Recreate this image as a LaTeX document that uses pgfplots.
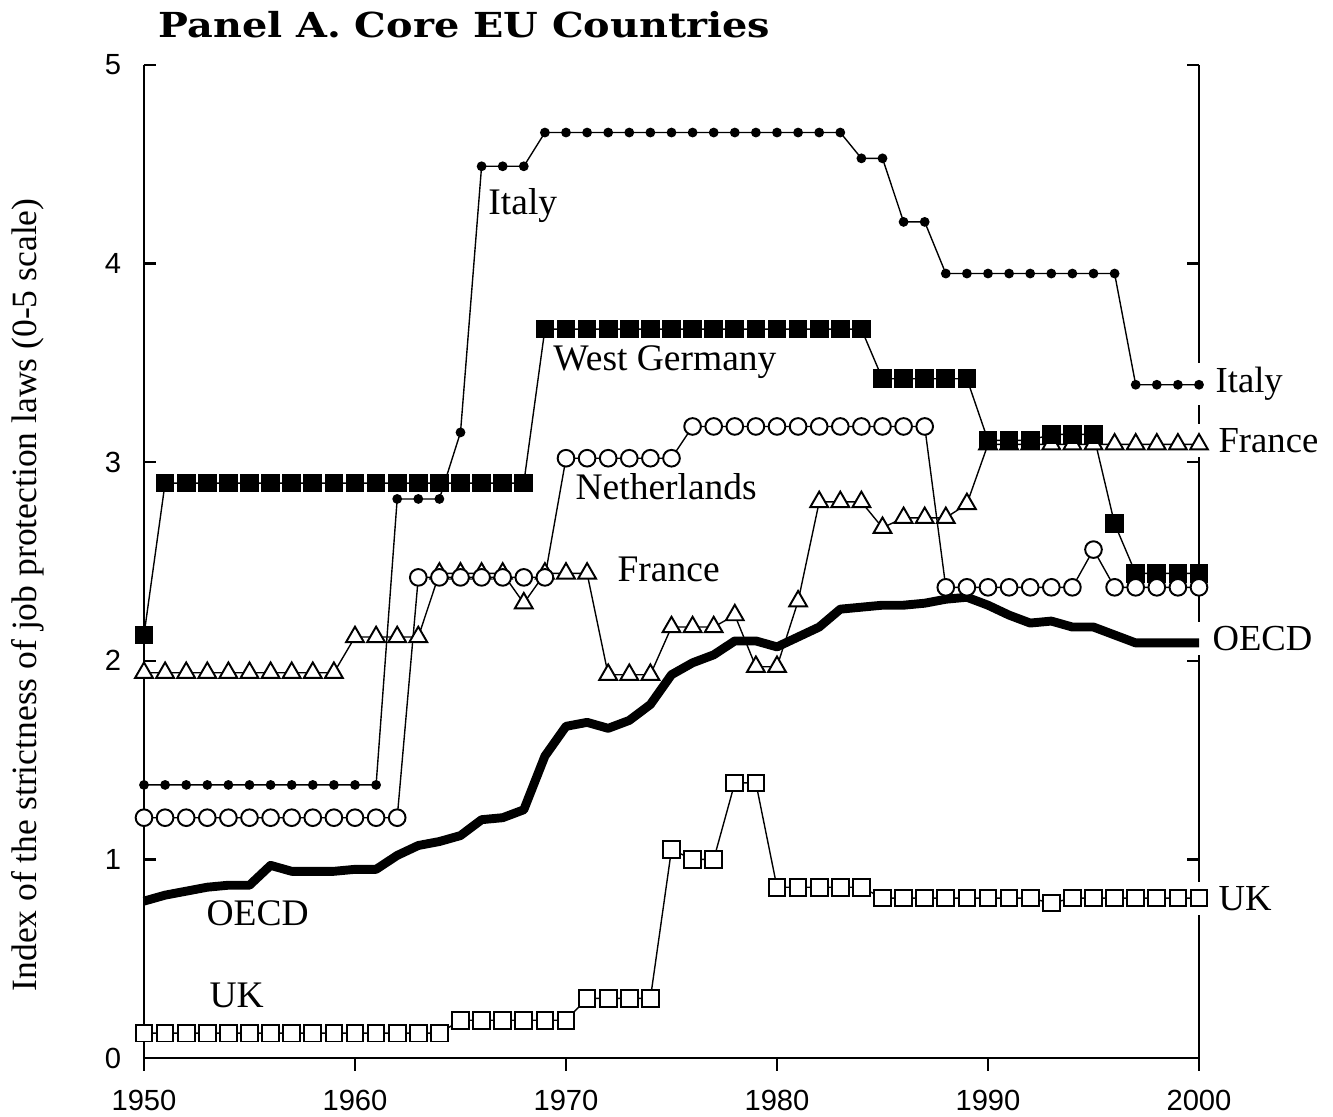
\documentclass[border=0pt]{standalone}
\usepackage{fontspec}
\setmainfont{Liberation Serif}
\newfontfamily\tickfont{Liberation Sans}
\newfontfamily\titlefont{DejaVu Serif}
\usepackage{pgfplots}
\pgfplotsset{compat=1.18}
\begin{document}
\begin{tikzpicture}
\useasboundingbox (-51.84pt,-21.24pt) rectangle (428.04pt,380.88pt);
\node[anchor=base west,inner sep=0pt,font=\titlefont\bfseries\fontsize{12.4}{14}\selectfont] at (5.04pt,367.2pt) {\scalebox{1.155}[1]{Panel A. Core EU Countries}};
\node[rotate=90,inner sep=0pt,font=\fontsize{12.8}{14}\selectfont] at (-41.76pt,166.7pt) {Index of the strictness of job protection laws (0-5 scale)};
\begin{axis}[
  at={(0pt,0pt)}, anchor=south west,
  scale only axis, width=379.8pt, height=357.48pt,
  xmin=1950, xmax=2000, ymin=0, ymax=5,
  clip=false,
  axis line style={draw=none},
  xtick={1950,1960,1970,1980,1990,2000},
  ytick={0,1,2,3,4,5},
  xtick pos=left, ytick pos=both,
  xtick align=outside, ytick align=inside,
  major tick length=4.5pt,
  tick style={line width=0.8pt,black},
  xticklabel style={font=\tickfont\fontsize{10.5}{12}\selectfont, yshift=-3.6pt},
  yticklabel style={font=\tickfont\fontsize{10.5}{12}\selectfont, xshift=-4.7pt},
  /pgf/number format/assume math mode=true,
  /pgf/number format/1000 sep={},
  every axis plot/.append style={line width=0.5pt, black},
]
\draw[line width=0.8pt] (axis cs:1950,5) -- (axis cs:1950,0) -- (axis cs:2000,0) -- (axis cs:2000,5);
% right labels with white backing
\begin{scope}[every node/.style={anchor=base west, fill=white, inner ysep=1.5pt, font=\fontsize{13.2}{15}\selectfont}]
\node[inner xsep=6.84pt] at (axis cs:1999.86,3.35) {Italy};
\node[inner xsep=7.9pt] at (axis cs:1999.86,3.05) {France};
\node[inner xsep=5.76pt] at (axis cs:1999.86,2.054) {OECD};
\node[inner xsep=7.9pt] at (axis cs:1999.86,0.745) {UK};
\end{scope}
\begin{scope}[every node/.style={anchor=base west, inner sep=0pt, font=\fontsize{13.5}{15}\selectfont}]
\node at (axis cs:1966.30,4.245) {Italy};
\node at (axis cs:1969.38,3.464) {West Germany};
\node at (axis cs:1970.43,2.81) {Netherlands};
\node at (axis cs:1972.42,2.397) {France};
\node at (axis cs:1952.94,0.665) {OECD};
\node at (axis cs:1953.08,0.252) {UK};
\end{scope}
% UK
\addplot[mark=square*, mark size=3.0pt, mark options={fill=white, line width=0.7pt}] coordinates {
(1950,0.125)(1951,0.125)(1952,0.125)(1953,0.125)(1954,0.125)(1955,0.125)(1956,0.125)(1957,0.125)
(1958,0.125)(1959,0.125)(1960,0.125)(1961,0.125)(1962,0.125)(1963,0.125)(1964,0.125)
(1965,0.19)(1966,0.19)(1967,0.19)(1968,0.19)(1969,0.19)(1970,0.19)
(1971,0.30)(1972,0.30)(1973,0.30)(1974,0.30)
(1975,1.05)(1976,1.00)(1977,1.00)(1978,1.385)(1979,1.385)
(1980,0.86)(1981,0.86)(1982,0.86)(1983,0.86)(1984,0.86)
(1985,0.805)(1986,0.805)(1987,0.805)(1988,0.805)(1989,0.805)(1990,0.805)(1991,0.805)(1992,0.805)
(1993,0.78)(1994,0.805)(1995,0.805)(1996,0.805)(1997,0.805)(1998,0.805)(1999,0.805)(2000,0.805)
};
% OECD
\addplot[line width=3.2pt, no markers, line join=round] coordinates {
(1950,0.79)(1951,0.82)(1952,0.84)(1953,0.86)(1954,0.87)(1955,0.87)(1956,0.97)(1957,0.94)
(1958,0.94)(1959,0.94)(1960,0.95)(1961,0.95)(1962,1.02)(1963,1.07)(1964,1.09)(1965,1.12)
(1966,1.20)(1967,1.21)(1968,1.25)(1969,1.52)(1970,1.67)(1971,1.69)(1972,1.66)(1973,1.70)
(1974,1.78)(1975,1.93)(1976,1.99)(1977,2.03)(1978,2.10)(1979,2.10)(1980,2.07)(1981,2.12)
(1982,2.17)(1983,2.26)(1984,2.27)(1985,2.28)(1986,2.28)(1987,2.29)(1988,2.31)(1989,2.32)
(1990,2.28)(1991,2.23)(1992,2.19)(1993,2.20)(1994,2.17)(1995,2.17)(1996,2.13)(1997,2.09)
(1998,2.09)(1999,2.09)(2000,2.09)
};
% France
\addplot[mark=triangle*, mark size=3.7pt, mark options={fill=white, line width=0.7pt}] coordinates {
(1950,1.94)(1951,1.94)(1952,1.94)(1953,1.94)(1954,1.94)(1955,1.94)(1956,1.94)(1957,1.94)(1958,1.94)(1959,1.94)
(1960,2.12)(1961,2.12)(1962,2.12)(1963,2.12)
(1964,2.44)(1965,2.44)(1966,2.44)(1967,2.44)(1968,2.29)(1969,2.44)(1970,2.44)(1971,2.44)
(1972,1.93)(1973,1.93)(1974,1.93)(1975,2.17)(1976,2.17)(1977,2.17)(1978,2.23)
(1979,1.97)(1980,1.97)(1981,2.30)(1982,2.80)(1983,2.80)(1984,2.80)(1985,2.67)
(1986,2.72)(1987,2.72)(1988,2.72)(1989,2.79)
(1990,3.09)(1991,3.09)(1992,3.09)(1993,3.09)(1994,3.09)(1995,3.09)(1996,3.09)(1997,3.09)(1998,3.09)(1999,3.09)(2000,3.09)
};
% West Germany
\addplot[mark=square*, mark size=3.1pt] coordinates {
(1950,2.13)(1951,2.895)(1952,2.895)(1953,2.895)(1954,2.895)(1955,2.895)(1956,2.895)(1957,2.895)(1958,2.895)
(1959,2.895)(1960,2.895)(1961,2.895)(1962,2.895)(1963,2.895)(1964,2.895)(1965,2.895)(1966,2.895)(1967,2.895)(1968,2.895)
(1969,3.67)(1970,3.67)(1971,3.67)(1972,3.67)(1973,3.67)(1974,3.67)(1975,3.67)(1976,3.67)(1977,3.67)(1978,3.67)
(1979,3.67)(1980,3.67)(1981,3.67)(1982,3.67)(1983,3.67)(1984,3.67)
(1985,3.42)(1986,3.42)(1987,3.42)(1988,3.42)(1989,3.42)
(1990,3.11)(1991,3.11)(1992,3.11)(1993,3.14)(1994,3.14)(1995,3.14)
(1996,2.69)(1997,2.44)(1998,2.44)(1999,2.44)(2000,2.44)
};
% Netherlands
\addplot[mark=*, mark size=3.0pt, mark options={fill=white, line width=0.7pt}] coordinates {
(1950,1.21)(1951,1.21)(1952,1.21)(1953,1.21)(1954,1.21)(1955,1.21)(1956,1.21)(1957,1.21)(1958,1.21)
(1959,1.21)(1960,1.21)(1961,1.21)(1962,1.21)
(1963,2.42)(1964,2.42)(1965,2.42)(1966,2.42)(1967,2.42)(1968,2.42)(1969,2.42)
(1970,3.02)(1971,3.02)(1972,3.02)(1973,3.02)(1974,3.02)(1975,3.02)
(1976,3.18)(1977,3.18)(1978,3.18)(1979,3.18)(1980,3.18)(1981,3.18)(1982,3.18)(1983,3.18)(1984,3.18)
(1985,3.18)(1986,3.18)(1987,3.18)
(1988,2.37)(1989,2.37)(1990,2.37)(1991,2.37)(1992,2.37)(1993,2.37)(1994,2.37)(1995,2.56)
(1996,2.37)(1997,2.37)(1998,2.37)(1999,2.37)(2000,2.37)
};
% Italy
\addplot[mark=*, mark size=1.5pt] coordinates {
(1950,1.375)(1951,1.375)(1952,1.375)(1953,1.375)(1954,1.375)(1955,1.375)(1956,1.375)(1957,1.375)
(1958,1.375)(1959,1.375)(1960,1.375)(1961,1.375)
(1962,2.815)(1963,2.815)(1964,2.815)(1965,3.15)(1966,4.49)(1967,4.49)(1968,4.49)
(1969,4.66)(1970,4.66)(1971,4.66)(1972,4.66)(1973,4.66)(1974,4.66)(1975,4.66)(1976,4.66)(1977,4.66)
(1978,4.66)(1979,4.66)(1980,4.66)(1981,4.66)(1982,4.66)(1983,4.66)
(1984,4.53)(1985,4.53)(1986,4.21)(1987,4.21)
(1988,3.95)(1989,3.95)(1990,3.95)(1991,3.95)(1992,3.95)(1993,3.95)(1994,3.95)(1995,3.95)(1996,3.95)
(1997,3.39)(1998,3.39)(1999,3.39)(2000,3.39)
};
\end{axis}
\end{tikzpicture}
\end{document}
